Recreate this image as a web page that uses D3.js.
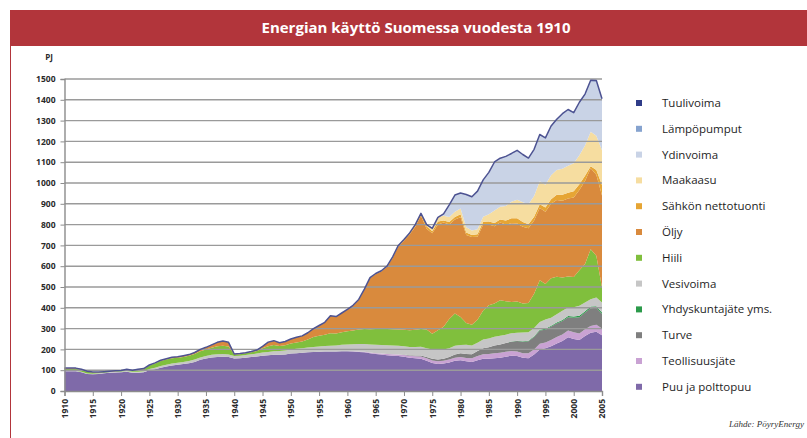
<!DOCTYPE html>
<html>
<head>
<meta charset="utf-8">
<script src="https://cdn.jsdelivr.net/npm/d3@7"></script>
<style>
  html, body { margin: 0; padding: 0; background: #fff; }
  svg { display: block; }
  .axis path, .axis line { stroke: #8c8c8c; }
  .axis text { font-family: "Open Sans", sans-serif; font-weight: 700; font-size: 8.5px; fill: #2a2a2a; }
</style>
</head>
<body>
<div id="chart"></div>
<script>
// years 1910..2005, one value per year (PJ)
let years = d3.range(1910, 2006);

let puu = [
  95, 95, 95, 90, 82, 80, 82, 85, 88, 89,
  90, 92, 88, 88, 90, 100, 105, 112, 118, 123,
  126, 130, 134, 140, 150, 156, 161, 164, 165, 163,
  156, 158, 160, 163, 166, 170, 172, 174, 174, 176,
  180, 182, 184, 186, 188, 189, 190, 190, 190, 191,
  191, 190, 188, 186, 182, 178, 175, 172, 170, 168,
  165, 160, 157, 155, 145, 135, 130, 132, 137, 145,
  148, 143, 140, 148, 155, 155, 157, 160, 165, 170,
  168, 160, 158, 175, 200, 205, 215, 228, 240, 258,
  250, 245, 265, 280, 285, 268
];
let teollisuusjate = [
  0, 0, 0, 0, 0, 0, 0, 0, 0, 0,
  0, 0, 0, 0, 0, 0, 0, 0, 0, 0,
  0, 0, 0, 0, 0, 0, 0, 0, 0, 0,
  0, 0, 0, 0, 0, 0, 0, 0, 0, 0,
  0, 0, 0, 0, 0, 0, 0, 0, 0, 0,
  0, 1, 2, 3, 3, 4, 5, 6, 7, 8,
  8, 9, 10, 11, 12, 12, 13, 13, 14, 15,
  15, 16, 17, 20, 22, 23, 24, 24, 24, 22,
  22, 22, 23, 25, 27, 28, 30, 32, 32, 33,
  32, 32, 32, 33, 33, 32
];
let turve = [
  0, 0, 0, 0, 0, 0, 0, 0, 0, 0,
  0, 0, 0, 0, 0, 0, 0, 0, 0, 0,
  0, 0, 0, 0, 0, 0, 0, 0, 0, 0,
  0, 0, 0, 0, 0, 0, 0, 0, 0, 0,
  0, 0, 0, 0, 0, 0, 0, 0, 0, 0,
  0, 0, 0, 0, 0, 0, 0, 0, 0, 0,
  2, 3, 4, 5, 6, 8, 9, 10, 12, 15,
  18, 19, 20, 24, 28, 32, 38, 40, 42, 45,
  50, 55, 58, 60, 64, 62, 65, 64, 64, 64,
  70, 78, 80, 85, 82, 70
];
let yhdyskuntajate = [
  0, 0, 0, 0, 0, 0, 0, 0, 0, 0,
  0, 0, 0, 0, 0, 0, 0, 0, 0, 0,
  0, 0, 0, 0, 0, 0, 0, 0, 0, 0,
  0, 0, 0, 0, 0, 0, 0, 0, 0, 0,
  0, 0, 0, 0, 0, 0, 0, 0, 0, 0,
  0, 0, 0, 0, 0, 0, 0, 0, 0, 0,
  0, 0, 0, 0, 0, 0, 0, 0, 0, 0,
  0, 0, 0, 0, 0, 0, 0, 0, 0, 1,
  2, 2, 2, 3, 3, 4, 4, 5, 5, 6,
  6, 7, 7, 8, 8, 8
];
let vesivoima = [
  2, 2, 2, 2, 2, 3, 3, 3, 3, 3,
  4, 4, 4, 5, 5, 6, 7, 8, 8, 9,
  10, 10, 10, 11, 11, 12, 13, 13, 13, 13,
  12, 12, 13, 14, 14, 15, 16, 17, 18, 19,
  20, 21, 22, 23, 24, 25, 26, 28, 29, 31,
  32, 34, 36, 37, 38, 40, 41, 42, 42, 41,
  40, 40, 41, 42, 43, 45, 45, 44, 43, 42,
  40, 44, 42, 40, 42, 42, 42, 42, 40, 40,
  38, 42, 42, 40, 38, 45, 38, 40, 45, 40,
  45, 48, 42, 35, 42, 48
];
let hiili = [
  10, 10, 10, 10, 8, 6, 4, 3, 2, 3,
  3, 7, 6, 9, 10, 16, 20, 24, 25, 25,
  24, 24, 25, 27, 30, 31, 34, 38, 40, 38,
  7, 7, 8, 9, 12, 20, 27, 30, 24, 25,
  28, 30, 32, 38, 48, 52, 55, 60, 58, 60,
  64, 66, 70, 72, 74, 76, 77, 78, 78, 79,
  80, 80, 82, 85, 90, 75, 95, 110, 140, 155,
  135, 105, 100, 110, 140, 160, 160, 170, 160, 150,
  150, 140, 140, 165, 200, 170, 190, 180, 160, 150,
  145, 170, 185, 240, 200, 70
];
let oljy = [
  3, 3, 3, 3, 3, 2, 2, 2, 2, 2,
  2, 2, 2, 3, 3, 3, 3, 4, 4, 5,
  5, 6, 6, 7, 9, 11, 14, 19, 22, 20,
  3, 3, 3, 4, 5, 10, 20, 21, 16, 18,
  22, 25, 27, 33, 40, 49, 59, 84, 81, 93,
  105, 119, 142, 189, 245, 264, 276, 298, 343, 399,
  427, 460, 496, 544, 484, 483, 508, 501, 454, 453,
  479, 423, 421, 400, 413, 388, 371, 374, 369, 378,
  375, 369, 359, 352, 348, 348, 358, 369, 369, 374,
  382, 386, 399, 390, 390, 444
];
let sahko = [
  0, 0, 0, 0, 0, 0, 0, 0, 0, 0,
  0, 0, 0, 0, 0, 0, 0, 0, 0, 0,
  0, 0, 0, 0, 0, 0, 0, 0, 0, 0,
  0, 0, 0, 0, 0, 0, 0, 0, 0, 0,
  0, 0, 0, 0, 0, 0, 0, 0, 0, 0,
  0, 2, 2, 3, 3, 3, 4, 4, 5, 5,
  6, 8, 10, 12, 12, 10, 15, 10, 12, 12,
  15, 12, 10, 12, 14, 15, 16, 14, 20, 24,
  25, 22, 20, 18, 18, 20, 22, 25, 28, 28,
  30, 28, 25, 10, 22, 50
];
let maakaasu = [
  0, 0, 0, 0, 0, 0, 0, 0, 0, 0,
  0, 0, 0, 0, 0, 0, 0, 0, 0, 0,
  0, 0, 0, 0, 0, 0, 0, 0, 0, 0,
  0, 0, 0, 0, 0, 0, 0, 0, 0, 0,
  0, 0, 0, 0, 0, 0, 0, 0, 0, 0,
  0, 0, 0, 0, 0, 0, 0, 0, 0, 0,
  0, 0, 0, 0, 8, 14, 20, 22, 24, 25,
  27, 25, 22, 24, 24, 35, 60, 62, 70, 80,
  90, 95, 96, 100, 110, 110, 115, 120, 125, 130,
  135, 140, 145, 165, 165, 168
];
let ydinvoima = [
  0, 0, 0, 0, 0, 0, 0, 0, 0, 0,
  0, 0, 0, 0, 0, 0, 0, 0, 0, 0,
  0, 0, 0, 0, 0, 0, 0, 0, 0, 0,
  0, 0, 0, 0, 0, 0, 0, 0, 0, 0,
  0, 0, 0, 0, 0, 0, 0, 0, 0, 0,
  0, 0, 0, 0, 0, 0, 0, 0, 0, 0,
  0, 0, 0, 0, 0, 0, 0, 10, 59, 80,
  75, 158, 162, 182, 176, 200, 232, 232, 236, 230,
  235, 228, 220, 222, 223, 223, 234, 240, 262, 267,
  240, 251, 243, 244, 260, 241
];
let lampopumput = [
  0, 0, 0, 0, 0, 0, 0, 0, 0, 0,
  0, 0, 0, 0, 0, 0, 0, 0, 0, 0,
  0, 0, 0, 0, 0, 0, 0, 0, 0, 0,
  0, 0, 0, 0, 0, 0, 0, 0, 0, 0,
  0, 0, 0, 0, 0, 0, 0, 0, 0, 0,
  0, 0, 0, 0, 0, 0, 0, 0, 0, 0,
  0, 0, 0, 0, 0, 0, 0, 0, 0, 0,
  0, 0, 0, 1, 1, 1, 1, 1, 2, 2,
  2, 2, 2, 2, 2, 2, 3, 3, 3, 3,
  3, 3, 4, 4, 5, 5
];
let tuulivoima = [
  0, 0, 0, 0, 0, 0, 0, 0, 0, 0,
  0, 0, 0, 0, 0, 0, 0, 0, 0, 0,
  0, 0, 0, 0, 0, 0, 0, 0, 0, 0,
  0, 0, 0, 0, 0, 0, 0, 0, 0, 0,
  0, 0, 0, 0, 0, 0, 0, 0, 0, 0,
  0, 0, 0, 0, 0, 0, 0, 0, 0, 0,
  0, 0, 0, 0, 0, 0, 0, 0, 0, 0,
  0, 0, 0, 0, 0, 0, 0, 0, 0, 0,
  0, 0, 0, 0.1, 0.1, 0.1, 0.1, 0.1, 0.2, 0.3,
  0.3, 0.3, 0.5, 0.3, 0.4, 0.6
];

// stack order, bottom first
let series = [
  { key: 'puu',   name: 'Puu ja polttopuu',     color: '#7f6aa9', values: puu },
  { key: 'teol',  name: 'Teollisuusjäte',       color: '#c9a2d3', values: teollisuusjate },
  { key: 'turve', name: 'Turve',                color: '#7f7f7f', values: turve },
  { key: 'yhd',   name: 'Yhdyskuntajäte yms.',  color: '#2b9a4a', values: yhdyskuntajate },
  { key: 'vesi',  name: 'Vesivoima',            color: '#c6c6c6', values: vesivoima },
  { key: 'hiili', name: 'Hiili',                color: '#80bf3d', values: hiili },
  { key: 'oljy',  name: 'Öljy',                 color: '#d98a3d', values: oljy },
  { key: 'sahko', name: 'Sähkön nettotuonti',   color: '#e6a534', values: sahko },
  { key: 'kaasu', name: 'Maakaasu',             color: '#f6dda0', values: maakaasu },
  { key: 'ydin',  name: 'Ydinvoima',            color: '#c9d3e6', values: ydinvoima },
  { key: 'lampo', name: 'Lämpöpumput',          color: '#86a3cf', values: lampopumput },
  { key: 'tuuli', name: 'Tuulivoima',           color: '#2f3c88', values: tuulivoima }
];

let yTicks = d3.range(0, 1501, 100);
let xTicks = d3.range(1910, 2006, 5);

const W = 807, H = 438, red = '#b2353b';

let svg = d3.select('#chart').append('svg')
    .attr('width', W)
    .attr('height', H);

// Title bar and frame
svg.append('rect')
    .attr('x', 10).attr('y', 10)
    .attr('width', W - 10).attr('height', 36)
    .attr('fill', red);
svg.append('line')
    .attr('x1', 10.5).attr('x2', 10.5)
    .attr('y1', 46).attr('y2', H)
    .attr('stroke', red).attr('stroke-width', 1);
svg.append('text')
    .attr('x', 416).attr('y', 33)
    .attr('text-anchor', 'middle')
    .attr('fill', '#fff')
    .style('font-family', '"Open Sans", sans-serif')
    .style('font-weight', 700)
    .style('font-size', '15px')
    .text('Energian käyttö Suomessa vuodesta 1910');

let x = d3.scaleLinear().domain([1910, 2005]).range([64.5, 602]);
let y = d3.scaleLinear().domain([0, 1500]).range([391, 79]);

// Build table for the stack
let table = years.map((yr, i) => {
  let row = { year: yr };
  series.forEach(s => { row[s.key] = s.values[i]; });
  return row;
});

let stacked = d3.stack().keys(series.map(s => s.key))(table);

let area = d3.area()
    .x(d => x(d.data.year))
    .y0(d => y(d[0]))
    .y1(d => y(d[1]));

svg.append('g').selectAll('path')
    .data(stacked)
    .join('path')
    .attr('d', area)
    .attr('fill', (d, i) => series[i].color);

// Gridlines on top of the areas
svg.append('g').selectAll('line')
    .data(yTicks.filter(v => v > 0))
    .join('line')
    .attr('x1', x(1910)).attr('x2', x(2005))
    .attr('y1', d => y(d)).attr('y2', d => y(d))
    .attr('stroke', '#9a9a9a')
    .attr('stroke-width', 1.4);

// Outline along the total
let topLayer = stacked[stacked.length - 1];
svg.append('path')
    .datum(topLayer)
    .attr('fill', 'none')
    .attr('stroke', '#4d5392')
    .attr('stroke-width', 1.5)
    .attr('stroke-linejoin', 'round')
    .attr('d', d3.line().x(d => x(d.data.year)).y(d => y(d[1])));

// Axes
let yAxis = svg.append('g')
    .attr('class', 'axis')
    .attr('transform', 'translate(' + x(1910) + ',0)')
    .call(d3.axisLeft(y).tickValues(yTicks).tickSize(4).tickPadding(5).tickFormat(d3.format('d')));
yAxis.select('.domain').attr('stroke-width', 1.4);

let xAxis = svg.append('g')
    .attr('class', 'axis')
    .attr('transform', 'translate(0,' + y(0) + ')')
    .call(d3.axisBottom(x).tickValues(xTicks).tickSize(5).tickFormat(d3.format('d')));
xAxis.select('.domain').attr('stroke-width', 1.4);
xAxis.selectAll('text')
    .attr('transform', 'rotate(-90)')
    .attr('x', -8)
    .attr('y', 0)
    .attr('dy', '0.35em')
    .style('text-anchor', 'end');

svg.append('text')
    .attr('x', 53).attr('y', 60)
    .attr('text-anchor', 'end')
    .style('font-family', '"Open Sans", sans-serif')
    .style('font-weight', 700)
    .style('font-size', '8px')
    .attr('fill', '#2a2a2a')
    .text('PJ');

// Legend, top of the stack first
let legend = svg.append('g').selectAll('g')
    .data(series.slice().reverse())
    .join('g')
    .attr('transform', (d, i) => 'translate(636,' + (103 + i * 25.8) + ')');
legend.append('rect')
    .attr('x', 0).attr('y', -3)
    .attr('width', 6).attr('height', 6)
    .attr('fill', d => d.color);
legend.append('text')
    .attr('x', 26).attr('y', 0)
    .attr('dy', '0.35em')
    .style('font-family', '"Open Sans", sans-serif')
    .style('font-size', '11.5px')
    .attr('fill', '#1e1e1e')
    .text(d => d.name);

// Source
svg.append('text')
    .attr('x', 804).attr('y', 427)
    .attr('text-anchor', 'end')
    .style('font-family', '"Liberation Serif", serif')
    .style('font-style', 'italic')
    .style('font-size', '9px')
    .attr('fill', '#333')
    .text('Lähde: PöyryEnergy');
</script>
</body>
</html>
